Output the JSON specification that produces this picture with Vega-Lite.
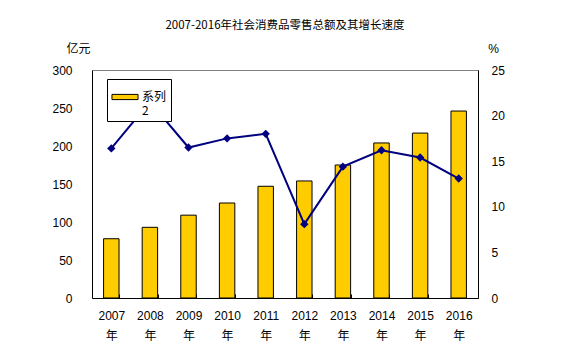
{
  "$schema": "https://vega.github.io/schema/vega-lite/v6.json",
  "autosize": "none",
  "width": 386,
  "height": 228,
  "padding": {"left": 92, "top": 70, "right": 85, "bottom": 54},
  "background": "white",
  "title": {
    "text": "2007-2016年社会消费品零售总额及其增长速度",
    "font": "Noto Sans CJK SC",
    "fontSize": 11.5,
    "fontWeight": "normal",
    "color": "black",
    "anchor": "middle",
    "frame": "group",
    "offset": 11
  },
  "data": {
    "values": [
      {"year": "2007", "sales": 78, "growth": 16.4},
      {"year": "2008", "sales": 93, "growth": 21.5},
      {"year": "2009", "sales": 109, "growth": 16.5},
      {"year": "2010", "sales": 125, "growth": 17.5},
      {"year": "2011", "sales": 147, "growth": 18.0},
      {"year": "2012", "sales": 154, "growth": 8.1},
      {"year": "2013", "sales": 175, "growth": 14.4},
      {"year": "2014", "sales": 204, "growth": 16.2},
      {"year": "2015", "sales": 217, "growth": 15.4},
      {"year": "2016", "sales": 246, "growth": 13.1}
    ]
  },
  "encoding": {
    "x": {
      "field": "year",
      "type": "nominal",
      "scale": {"paddingInner": 0.6, "paddingOuter": 0.3},
      "axis": {
        "title": null,
        "labelAngle": 0,
        "labelExpr": "(datum.label == null || datum.label == '') ? '' : [datum.label, '年']",
        "labelLineHeight": 20,
        "labelFont": "Liberation Sans, Noto Sans CJK SC",
        "labelFontSize": 12,
        "labelColor": "black",
        "labelPadding": 16,
        "labelBaseline": "top",
        "tickBand": "extent",
        "tickSize": -4,
        "tickColor": "black",
        "domainColor": "black"
      }
    }
  },
  "layer": [
    {
      "mark": {"type": "bar", "stroke": "black", "strokeWidth": 1},
      "encoding": {
        "y": {
          "field": "sales",
          "type": "quantitative",
          "scale": {"domain": [0, 300]},
          "axis": {
            "values": [0, 50, 100, 150, 200, 250, 300],
            "title": "亿元",
            "titleAngle": 0,
            "titleX": -14,
            "titleY": -15,
            "titleAlign": "center",
            "titleBaseline": "bottom",
            "titleFont": "Noto Sans CJK SC",
            "titleFontSize": 12,
            "titleFontWeight": "normal",
            "titleColor": "black",
            "labelFont": "Liberation Sans",
            "labelFontSize": 12,
            "labelColor": "black",
            "labelPadding": 20,
            "ticks": false,
            "grid": false,
            "domainColor": "black"
          }
        },
        "color": {
          "datum": "系列2",
          "type": "nominal",
          "scale": {"range": ["#FFCC00"]},
          "legend": {
            "title": null,
            "orient": "none",
            "legendX": 15,
            "legendY": 9,
            "strokeColor": "black",
            "fillColor": "white",
            "padding": 4,
            "symbolType": "M-1,-0.2H1V0.2H-1Z",
            "symbolSize": 680,
            "symbolStrokeColor": "black",
            "symbolStrokeWidth": 1,
            "labelExpr": "['系列', '2']",
            "labelFont": "Noto Sans CJK SC",
            "labelFontSize": 12,
            "labelColor": "black",
            "labelLineHeight": 14,
            "labelBaseline": "middle",
            "labelOffset": 3,
            "cornerRadius": 0
          }
        }
      }
    },
    {
      "mark": {
        "type": "line",
        "color": "#000080",
        "strokeWidth": 2,
        "point": {"shape": "diamond", "size": 70, "filled": true, "color": "#000080"}
      },
      "encoding": {
        "y": {
          "field": "growth",
          "type": "quantitative",
          "scale": {"domain": [0, 25]},
          "axis": {
            "orient": "right",
            "values": [0, 5, 10, 15, 20, 25],
            "title": "%",
            "titleAngle": 0,
            "titleX": 15,
            "titleY": -15,
            "titleAlign": "center",
            "titleBaseline": "bottom",
            "titleFont": "Liberation Sans",
            "titleFontSize": 12,
            "titleFontWeight": "normal",
            "titleColor": "black",
            "labelFont": "Liberation Sans",
            "labelFontSize": 12,
            "labelColor": "black",
            "labelPadding": 13,
            "ticks": false,
            "grid": false,
            "domainColor": "black"
          }
        }
      }
    }
  ],
  "resolve": {"scale": {"y": "independent"}},
  "config": {
    "view": {"stroke": "#808080", "strokeWidth": 1},
    "axis": {"domainWidth": 1}
  }
}
